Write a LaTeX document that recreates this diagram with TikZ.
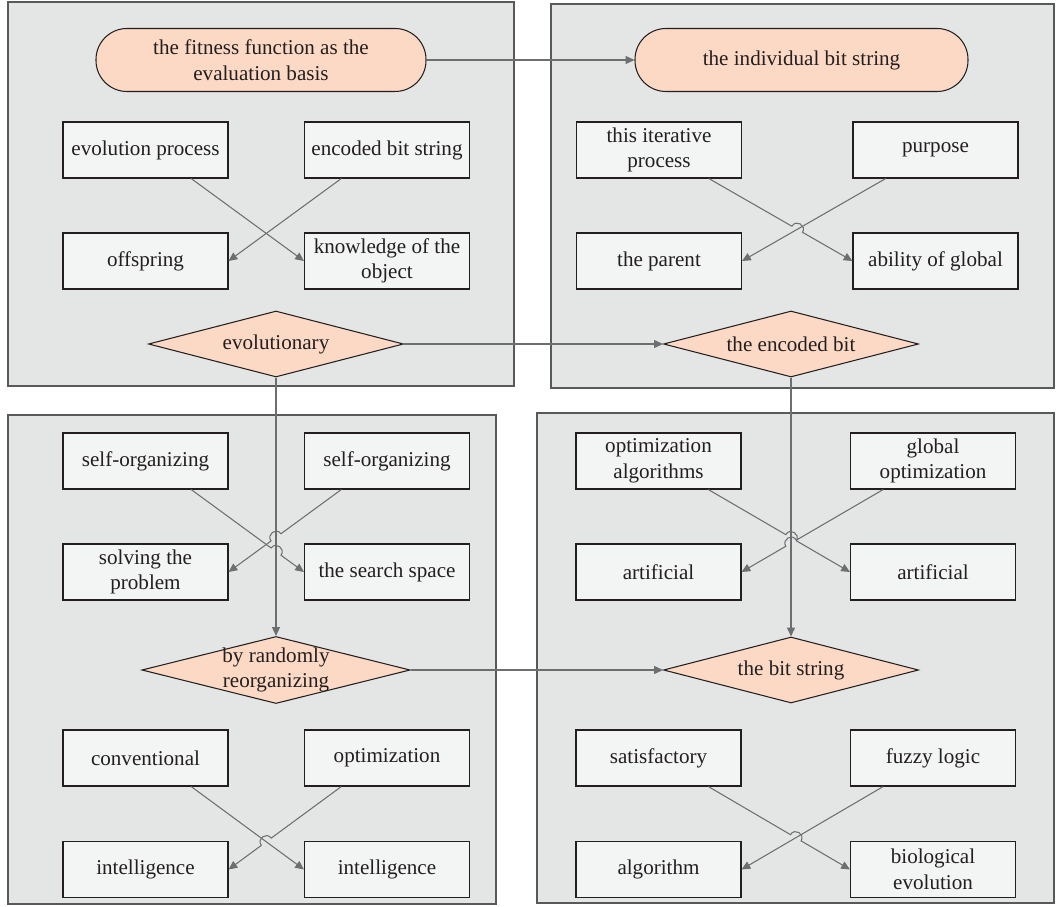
\documentclass[tikz,border=0pt]{standalone}
\usepackage{fontspec}
\setmainfont{Liberation Serif}
\usepackage{tikz}
\usetikzlibrary{positioning}
\usetikzlibrary{arrows.meta}
\usetikzlibrary{shapes.geometric}
\usetikzlibrary{calc}
\definecolor{panelgray}{HTML}{E4E5E5}
\definecolor{panelline}{HTML}{58595B}
\definecolor{boxfill}{HTML}{F3F4F4}
\definecolor{peach}{HTML}{FCD9C4}
\definecolor{linkgray}{HTML}{6D6E70}
\definecolor{inkblack}{HTML}{231F20}
\tikzset{
every node/.style={ % Sets the text of every node
font=\fontsize{12}{14.5}\selectfont,
text=inkblack,
align=center},
panel/.style={ % Grey background of each quarter
fill=panelgray,
draw=panelline,
line width=0.8pt},
textbox/.style={ % Plain rectangles
draw=inkblack,
fill=boxfill,
semithick,
minimum width=3.3cm,
minimum height=1.12cm,
inner sep=2pt},
terminal/.style={ % Rounded boxes at the top
draw=inkblack,
fill=peach,
semithick,
rounded corners=0.62cm,
minimum width=6.6cm,
minimum height=1.26cm},
decision/.style={ % Diamonds
diamond,
draw=inkblack,
fill=peach,
semithick,
aspect=4,
inner sep=-1pt,
minimum width=5.1cm,
minimum height=1.32cm},
link/.style={ % Sets the properties for each connector
draw=linkgray,
semithick,
-{Triangle[length=5pt,width=4.5pt]}},
every edge/.style={link}}
% connector from #1 to #2 that hops over the line #3--#4
\newcommand{\hoplink}[5]{%
\coordinate (hx) at (intersection of #1--#2 and #3--#4);
\draw[link] (#1) -- ($(hx)!3.5pt!(#1)$) to[bend #5=90,looseness=1.7] ($(hx)!3.5pt!(#2)$) -- (#2);}

\begin{document}
\begin{tikzpicture}
\useasboundingbox (0,0) rectangle (21.14,-18.14);
\filldraw[panel] (0.16,-0.04) rectangle (10.28,-7.72);
\filldraw[panel] (11.02,-0.08) rectangle (21.08,-7.76);
\filldraw[panel] (0.16,-8.30) rectangle (9.92,-18.08);
\filldraw[panel] (10.74,-8.26) rectangle (21.08,-18.06);

% top left
\node[terminal] (fit) at (5.22,-1.20) {the fitness function as the\\evaluation basis};
\node[textbox] (evo) at (2.91,-3.00) {evolution process};
\node[textbox] (enc) at (7.74,-3.00) {encoded bit string};
\node[textbox] (off) at (2.91,-5.22) {offspring};
\node[textbox] (know) at (7.74,-5.22) {knowledge of the\\object};
\node[decision] (evol) at (5.52,-6.88) {evolutionary};

% top right
\node[terminal, minimum width=6.66cm] (indiv) at (16.03,-1.20) {the individual bit string};
\node[textbox] (iter) at (13.18,-3.00) {this iterative\\process};
\node[textbox] (purp) at (18.71,-3.00) {purpose};
\node[textbox] (par) at (13.18,-5.22) {the parent};
\node[textbox] (abil) at (18.71,-5.22) {ability of global};
\node[decision] (encbit) at (15.82,-6.88) {the encoded bit};

% bottom left
\node[textbox] (self1) at (2.91,-9.22) {self-organizing};
\node[textbox] (self2) at (7.74,-9.22) {self-organizing};
\node[textbox] (solv) at (2.91,-11.44) {solving the\\problem};
\node[textbox] (search) at (7.74,-11.44) {the search space};
\node[decision] (rand) at (5.52,-13.40) {by randomly\\reorganizing};
\node[textbox] (conv) at (2.91,-15.16) {conventional};
\node[textbox] (opt) at (7.74,-15.16) {optimization};
\node[textbox] (intel1) at (2.91,-17.39) {intelligence};
\node[textbox] (intel2) at (7.74,-17.39) {intelligence};

% bottom right
\node[textbox] (optalg) at (13.17,-9.22) {optimization\\algorithms};
\node[textbox] (globopt) at (18.66,-9.22) {global\\optimization};
\node[textbox] (art1) at (13.17,-11.44) {artificial};
\node[textbox] (art2) at (18.66,-11.44) {artificial};
\node[decision] (bitstr) at (15.82,-13.40) {the bit string};
\node[textbox] (satis) at (13.17,-15.16) {satisfactory};
\node[textbox] (fuzzy) at (18.66,-15.16) {fuzzy logic};
\node[textbox] (algo) at (13.17,-17.39) {algorithm};
\node[textbox] (bio) at (18.66,-17.39) {biological\\evolution};

% start points of the crossing connectors
\coordinate (a1) at ($(evo.south)!0.55!(evo.south east)$);
\coordinate (a2) at ($(enc.south)!0.55!(enc.south west)$);
\coordinate (b1) at ($(iter.south)!0.6!(iter.south east)$);
\coordinate (b2) at ($(purp.south)!0.6!(purp.south west)$);
\coordinate (c1) at ($(self1.south)!0.55!(self1.south east)$);
\coordinate (c2) at ($(self2.south)!0.55!(self2.south west)$);
\coordinate (d1) at ($(conv.south)!0.55!(conv.south east)$);
\coordinate (d2) at ($(opt.south)!0.55!(opt.south west)$);
\coordinate (e1) at ($(optalg.south)!0.6!(optalg.south east)$);
\coordinate (e2) at ($(globopt.south)!0.6!(globopt.south west)$);
\coordinate (f1) at ($(satis.south)!0.6!(satis.south east)$);
\coordinate (f2) at ($(fuzzy.south)!0.6!(fuzzy.south west)$);

\draw (fit) edge (indiv);
\draw (evol) edge (encbit);
\draw (evol) edge (rand);
\draw (encbit) edge (bitstr);
\draw (rand) edge (bitstr);

\draw (a1) edge (know.west);
\draw (a2) edge (off.east);
\hoplink{b1}{abil.west}{b2}{par.east}{left}
\draw (b2) edge (par.east);
\hoplink{c1}{search.west}{evol.south}{rand.north}{left}
\hoplink{c2}{solv.east}{evol.south}{rand.north}{right}
\draw (d1) edge (intel2.west);
\hoplink{d2}{intel1.east}{d1}{intel2.west}{right}
\hoplink{e1}{art2.west}{encbit.south}{bitstr.north}{left}
\hoplink{e2}{art1.east}{encbit.south}{bitstr.north}{right}
\hoplink{f1}{bio.west}{f2}{algo.east}{left}
\draw (f2) edge (algo.east);
\end{tikzpicture}
\end{document}
